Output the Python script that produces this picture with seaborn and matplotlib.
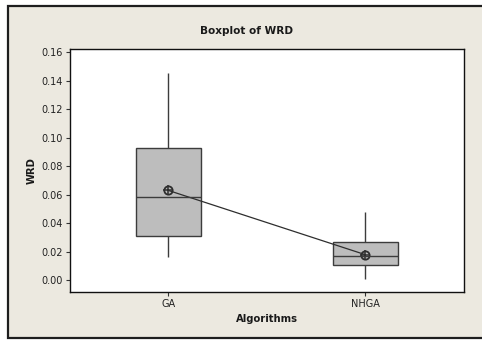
import numpy as np
import pandas as pd
import matplotlib
matplotlib.use("Agg")
import matplotlib.pyplot as plt
from matplotlib.patches import Rectangle
import seaborn as sns

# ---- data ----
algorithms = ["GA", "NHGA"]
wrd_min = [0.0159, 0.0005]
wrd_q1 = [0.0309, 0.0103]
wrd_median = [0.0585, 0.0168]
wrd_q3 = [0.0929, 0.0265]
wrd_max = [0.1451, 0.0480]
wrd_mean = [0.0630, 0.0178]
y_ticks = [0.00, 0.02, 0.04, 0.06, 0.08, 0.10, 0.12, 0.14, 0.16]

# five-number summaries as points so that quartiles are reproduced exactly
rows = []
for i, a in enumerate(algorithms):
    for v in (wrd_min[i], wrd_q1[i], wrd_median[i], wrd_q3[i], wrd_max[i]):
        rows.append({"Algorithms": a, "WRD": v})
box_df = pd.DataFrame(rows)
mean_df = pd.DataFrame({"Algorithms": algorithms, "WRD": wrd_mean})

sns.set_theme(style="white")
plt.rcParams["font.family"] = ["DejaVu Sans"]

fig = plt.figure(figsize=(4.82, 3.40), dpi=100, facecolor="white")
# beige panel with dark frame
fig.patches.append(Rectangle((8 / 482, 2 / 340), 1.02, 332 / 340,
                             transform=fig.transFigure, facecolor="#ece9e0",
                             edgecolor="#1e1e1e", linewidth=1.6, zorder=-10))

ax = fig.add_axes([69.5 / 482, 48 / 340, 394.5 / 482, 243.3 / 340])
ax.set_zorder(5)
ax.set_facecolor("white")

edge = "#3c3c3c"
sns.boxplot(data=box_df, x="Algorithms", y="WRD", order=algorithms, ax=ax,
            width=0.33, color="#bdbdbd", saturation=1, whis=np.inf,
            showcaps=False, linecolor=edge, linewidth=1.0)

sns.pointplot(data=mean_df, x="Algorithms", y="WRD", order=algorithms, ax=ax,
              color="#2e2e2e", errorbar=None, markers="o", linestyles="-",
              markersize=6, markerfacecolor="none", markeredgewidth=1.3,
              linewidth=0.9)
sns.pointplot(data=mean_df, x="Algorithms", y="WRD", order=algorithms, ax=ax,
              color="#2e2e2e", errorbar=None, markers="+", linestyles="none",
              markersize=7, markeredgewidth=1.1)

ax.set_xlim(-0.5, 1.5)
ax.set_ylim(-0.0084, 0.1625)
ax.set_yticks(y_ticks)
ax.set_yticklabels([f"{t:.2f}" for t in y_ticks])

for s in ax.spines.values():
    s.set_color("#111111")
    s.set_linewidth(1.0)
ax.tick_params(axis="both", which="both", direction="out", length=3, width=0.8,
               color="#333333", labelsize=7, labelcolor="#222222", pad=2,
               left=True, bottom=True, top=False, right=False)

ax.set_xlabel("Algorithms", fontsize=7.2, fontweight="bold", color="#1a1a1a", labelpad=4)
ax.set_ylabel("WRD", fontsize=7.2, fontweight="bold", color="#1a1a1a", labelpad=3)
fig.text(247 / 482, 1 - 30.7 / 340, "Boxplot of WRD", ha="center", va="center",
         fontsize=7.6, fontweight="bold", color="#1a1a1a")

fig.savefig("out.png", dpi=100, facecolor=fig.get_facecolor())
